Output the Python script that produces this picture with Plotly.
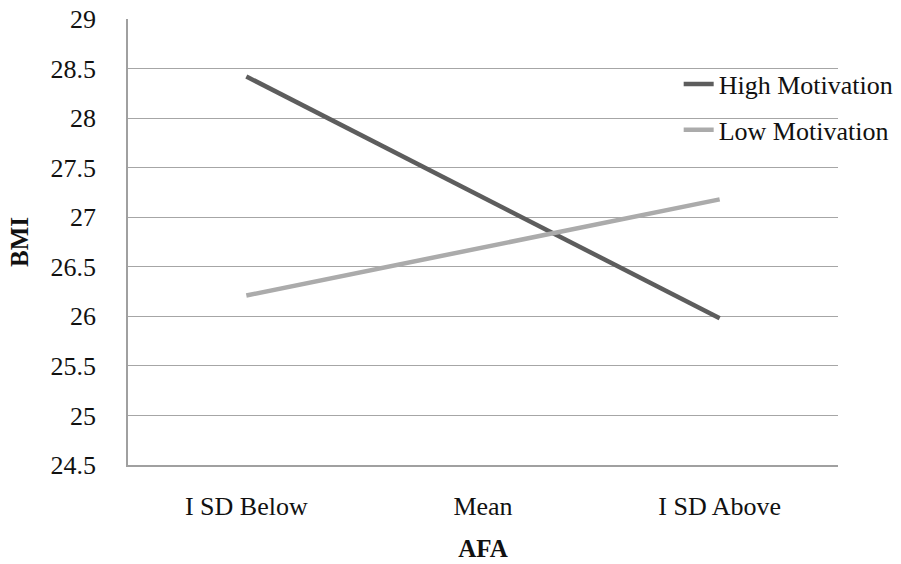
import plotly.graph_objects as go

categories = ["I SD Below", "Mean", "I SD Above"]
high_motivation = [28.42, 27.20, 25.98]
low_motivation = [26.21, 26.70, 27.18]
y_ticks = [24.5, 25, 25.5, 26, 26.5, 27, 27.5, 28, 28.5, 29]
y_tick_labels = ["24.5", "25", "25.5", "26", "26.5", "27", "27.5", "28", "28.5", "29"]

FONT = "Liberation Serif"
FS = 26

fig = go.Figure()
fig.add_trace(go.Scatter(x=categories, y=high_motivation, mode="lines",
                         name="High Motivation", legendgroup="a",
                         line=dict(color="#5d5d5d", width=4.5)))
fig.add_trace(go.Scatter(x=categories, y=low_motivation, mode="lines",
                         name="Low Motivation", legendgroup="b",
                         line=dict(color="#ababab", width=4.5)))

fig.update_layout(
    width=912, height=564,
    margin=dict(l=128, r=74, t=19, b=99),
    paper_bgcolor="white", plot_bgcolor="white",
    font=dict(family=FONT, size=FS, color="#111111"),
    showlegend=True,
    legend=dict(x=0.7756, y=0.907, xanchor="left", yanchor="top",
                bgcolor="rgba(0,0,0,0)", font=dict(size=FS, family=FONT),
                traceorder="grouped", tracegroupgap=9),
    xaxis=dict(
        type="category", range=[-0.5, 2.5], automargin=False,
        showgrid=False, showline=True, linecolor="#a0a0a0", linewidth=1.5,
        ticks="", ticklabelstandoff=17,
        tickfont=dict(size=FS, family=FONT),
        title=dict(text="<b>AFA</b>", font=dict(size=FS - 1, family=FONT), standoff=20),
    ),
    yaxis=dict(
        range=[24.5, 29], tickvals=y_ticks, ticktext=y_tick_labels, automargin=False,
        ticklabeloverflow="allow",
        showgrid=True, gridcolor="#a6a6a6", gridwidth=1.3,
        showline=True, linecolor="#a0a0a0", linewidth=1.5,
        zeroline=False, ticks="", ticklabelstandoff=25,
        tickfont=dict(size=FS, family=FONT),
        title=dict(text="<b>BMI</b>", font=dict(size=FS - 1, family=FONT), standoff=15),
    ),
)

fig.write_html("out.html", config={"displayModeBar": False},
               post_script="document.body.style.margin='0';document.body.style.overflow='hidden';")
